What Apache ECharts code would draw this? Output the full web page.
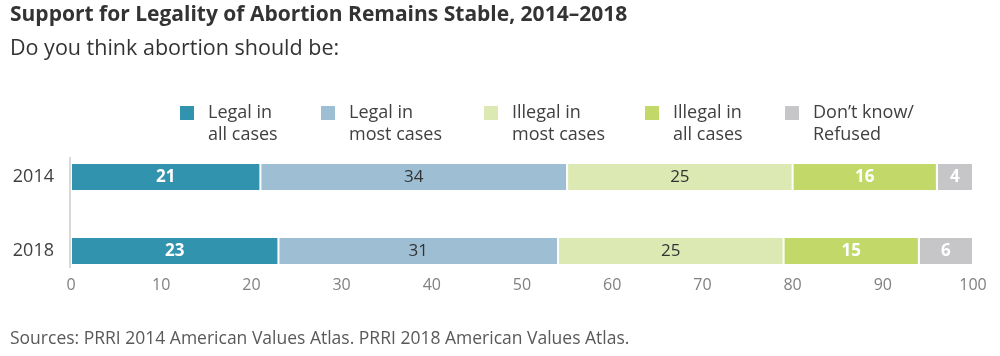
<!DOCTYPE html>
<html>
<head>
<meta charset="utf-8">
<script src="https://cdn.jsdelivr.net/npm/echarts@6/dist/echarts.min.js"></script>
<style>
html,body{margin:0;padding:0;background:#fff;}
#chart{width:1000px;height:356px;}
</style>
</head>
<body>
<div id="chart"></div>
<script>
const categories = ['2014', '2018'];
const seriesNames = ['Legal in\nall cases', 'Legal in\nmost cases', 'Illegal in\nmost cases', 'Illegal in\nall cases', 'Don\u2019t know/\nRefused'];
const legalAll = [21, 23];
const legalMost = [34, 31];
const illegalMost = [25, 25];
const illegalAll = [16, 15];
const dontKnow = [4, 6];
const xTicks = [0, 10, 20, 30, 40, 50, 60, 70, 80, 90, 100];

const values = [legalAll, legalMost, illegalMost, illegalAll, dontKnow];
const colors = ['#3193ae', '#9ebfd3', '#dde9b3', '#c2d96a', '#c6c6c8'];
const labelColors = ['#ffffff', '#333333', '#333333', '#ffffff', '#ffffff'];
const labelWeights = ['bold', 'normal', 'normal', 'bold', 'bold'];
const legendLeft = [178, 319, 482, 643, 783];
const FONT = '"Open Sans", "Noto Sans", sans-serif';

const chart = echarts.init(document.getElementById('chart'));

const series = seriesNames.map((name, i) => ({
  name: name,
  type: 'bar',
  stack: 'total',
  barWidth: 28,
  data: values[i],
  itemStyle: { color: colors[i], borderColor: '#ffffff', borderWidth: 1 },
  label: {
    show: true,
    position: 'inside',
    color: labelColors[i],
    fontWeight: labelWeights[i],
    fontSize: 17,
    fontFamily: FONT
  },
  emphasis: { disabled: true },
  animation: false
}));

const legends = seriesNames.map((name, i) => ({
  data: [name],
  left: legendLeft[i],
  top: 80,
  orient: 'horizontal',
  itemWidth: 16,
  itemHeight: 16,
  itemGap: 0,
  padding: 0,
  icon: 'rect',
  selectedMode: false,
  formatter: n => '{g|}\n' + n.split('\n').map(l => '{g|}' + l).join('\n'),
  textStyle: {
    fontSize: 18,
    fontFamily: FONT,
    color: '#404040',
    lineHeight: 22,
    rich: {
      g: { width: 8, lineHeight: 22, fontSize: 18 }
    }
  }
}));

chart.setOption({
  animation: false,
  title: [
    {
      text: 'Support for Legality of Abortion Remains Stable, 2014\u20132018',
      left: 10, top: 5, padding: 0,
      textStyle: { fontSize: 21, fontWeight: 'bold', color: '#333333', fontFamily: FONT }
    },
    {
      text: 'Do you think abortion should be:',
      left: 10, top: 38, padding: 0,
      textStyle: { fontSize: 21.5, fontWeight: 'normal', color: '#333333', fontFamily: FONT }
    },
    {
      text: 'Sources: PRRI 2014 American Values Atlas. PRRI 2018 American Values Atlas.',
      left: 10, top: 330, padding: 0,
      textStyle: { fontSize: 17.5, fontWeight: 'normal', color: '#595959', fontFamily: FONT }
    }
  ],
  legend: legends,
  grid: { left: 71, right: 27, top: 140, height: 148, containLabel: false },
  xAxis: {
    type: 'value',
    min: 0, max: 100, interval: 10,
    offset: -18,
    axisLine: { show: false },
    axisTick: { show: false },
    splitLine: { show: false },
    axisLabel: {
      fontSize: 16, color: '#808080', fontFamily: FONT, margin: 7,
      formatter: v => (xTicks.indexOf(v) >= 0 ? String(v) : '')
    }
  },
  yAxis: {
    type: 'category',
    data: categories,
    inverse: true,
    axisLine: { show: false },
    axisTick: { show: false },
    axisLabel: { fontSize: 18, color: '#404040', fontFamily: FONT, margin: 17 }
  },
  graphic: [
    { type: 'line', shape: { x1: 70, y1: 157, x2: 70, y2: 268 }, style: { stroke: '#d9d9d9', lineWidth: 2 }, silent: true }
  ],
  series: series
});
</script>
</body>
</html>
